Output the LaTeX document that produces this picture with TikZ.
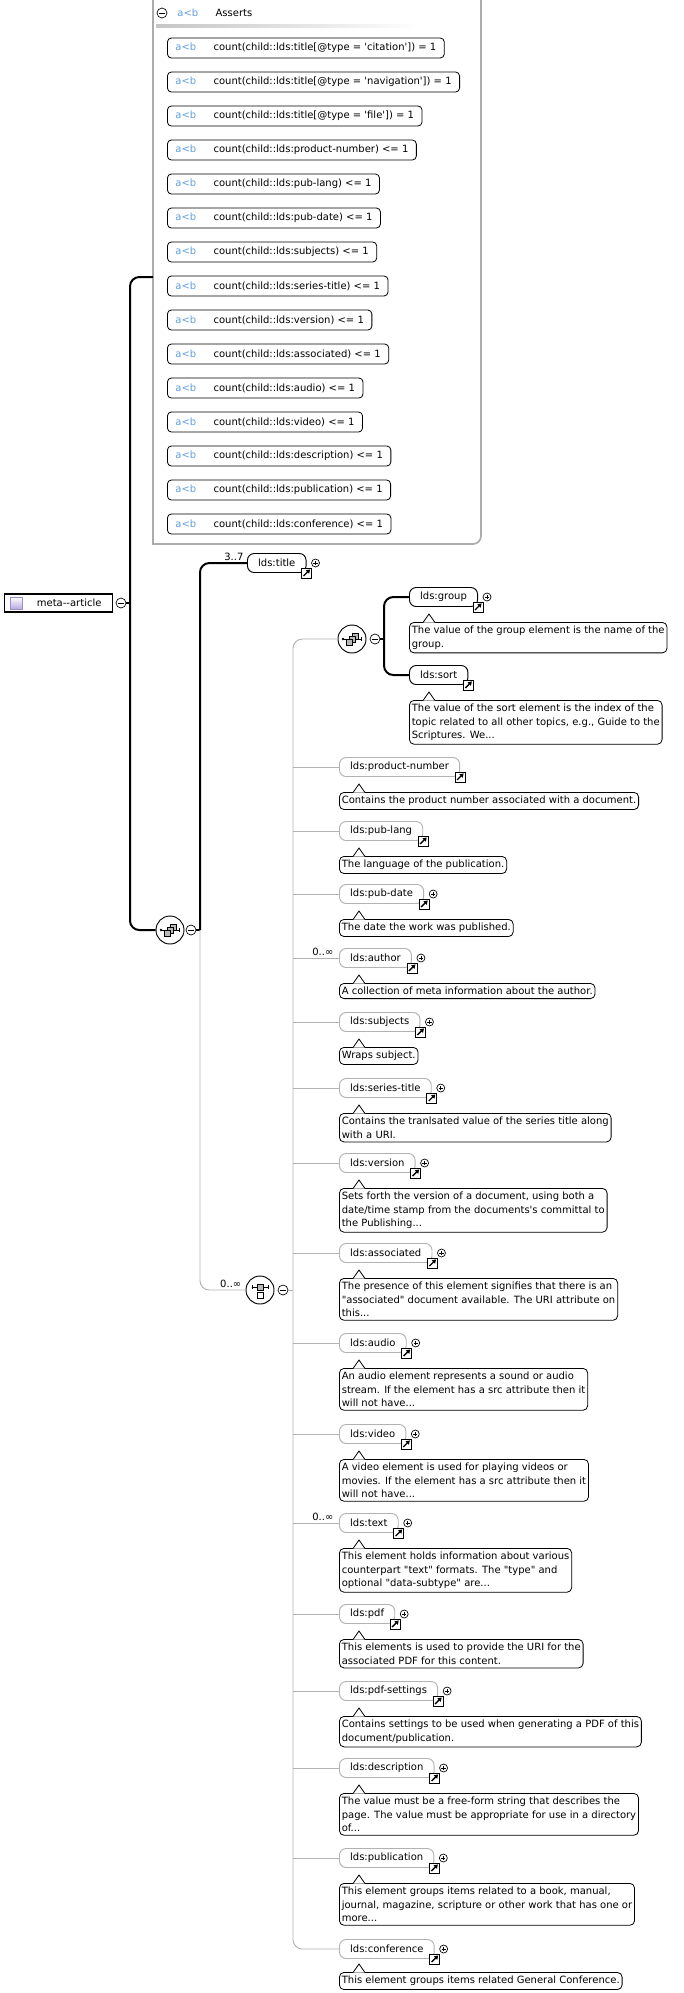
\documentclass[tikz,border=0pt]{standalone}
\usepackage{fontspec}
\newfontfamily\xsdfont{DejaVu Sans}
\usepackage{tikz}
\usetikzlibrary{shapes,arrows,arrows.meta,positioning,calc}
\usepackage{xcolor}
\definecolor{abblue}{RGB}{96,160,228}
\definecolor{optgray}{RGB}{178,178,178}
\definecolor{framegray}{RGB}{172,172,172}
\definecolor{lavender}{RGB}{160,140,210}

\newcommand{\refmark}[1]{\node[refbox] (#1ref) at (#1.south east) {};}
\newcommand{\plusmark}[1]{\node[plusbox, right=3.5pt of #1.east] (#1plus) {};}
\newcommand{\docnote}[3]{%
    \node[annot] (#1) at (#2) {#3};
    \filldraw[fill=white, line width=0.6pt] ([xshift=10.5pt,yshift=-0.4pt]#1.north west) -- ++(4.5pt,6.4pt) -- ++(4.5pt,-6.4pt);}

\begin{document}
\begin{tikzpicture}[
    x=0.75pt, y=-0.75pt,
    every node/.style={font=\xsdfont\fontsize{7.5}{10}\selectfont},
    elem/.style={rectangle, draw, rounded corners=5pt, fill=white, line width=0.7pt, minimum height=14.25pt, inner xsep=8pt, inner ysep=0pt, anchor=west},
    optelem/.style={elem, draw=optgray},
    annot/.style={rectangle, draw, rounded corners=3.5pt, fill=white, line width=0.6pt, align=left, inner xsep=1.8pt, inner ysep=2.8pt, anchor=north west},
    assertbox/.style={rectangle, draw, rounded corners=3pt, fill=white, line width=0.6pt, minimum height=15pt, inner xsep=6pt, inner ysep=0pt, anchor=west},
    asserthead/.style={assertbox, draw=none},
    root/.style={rectangle, draw, fill=white, line width=0.8pt, minimum width=81pt, minimum height=13.5pt, inner sep=0pt, anchor=west},
    comp/.style={circle, draw, fill=white, line width=0.7pt, minimum size=21pt, inner sep=0pt},
    minus/.style={circle, draw, fill=white, inner sep=0pt, minimum size=7.5pt, line width=0.5pt,
        path picture={\draw[line width=0.5pt] ([xshift=1.7pt]path picture bounding box.west) -- ([xshift=-1.7pt]path picture bounding box.east);}},
    plusbox/.style={circle, draw, fill=white, inner sep=0pt, minimum size=6pt, line width=0.5pt,
        path picture={\draw[line width=0.5pt] ([xshift=1.4pt]path picture bounding box.west) -- ([xshift=-1.4pt]path picture bounding box.east)
            ([yshift=1.4pt]path picture bounding box.south) -- ([yshift=-1.4pt]path picture bounding box.north);}},
    refbox/.style={rectangle, draw, fill=white, inner sep=0pt, minimum size=7.5pt, line width=0.5pt,
        path picture={\draw[line width=1pt, -{Triangle[length=2.8pt, width=3.4pt]}] ([shift={(1.5pt,1.5pt)}]path picture bounding box.south west) -- ([shift={(-1.1pt,-1.1pt)}]path picture bounding box.north east);}},
    card/.style={inner sep=0pt},
    bold/.style={line width=1.5pt},
    faint/.style={line width=0.7pt, draw=optgray},
    seqglyph/.pic={
        \draw[line width=0.5pt] (-9,0) -- (9,0);
        \fill (-9,0) circle (1pt);
        \draw[line width=0.6pt] (9,-2) -- (9,2);
        \filldraw[fill=gray!55, line width=0.4pt] (0,-6) rectangle (6,0);
        \filldraw[fill=gray!55, line width=0.4pt] (-3,-3) rectangle (3,3);
        \filldraw[fill=gray!55, line width=0.4pt] (-6,0) rectangle (0,6);
    },
    choiceglyph/.pic={
        \draw[line width=0.5pt] (-8,-3) -- (8,-3);
        \draw[line width=0.5pt] (-8,-5) -- (-8,-1) (8,-5) -- (8,-1);
        \filldraw[fill=gray!55, line width=0.4pt] (-3,-6) rectangle (3,0);
        \filldraw[fill=white, line width=0.4pt] (-3,2) rectangle (3,8);
    }
]
    \useasboundingbox (0,0) rectangle (683,1993);

    % Asserts frame
    \draw[draw=framegray, line width=1.3pt] (153,-5) -- (153,544) -- (473,544) to[out=0,in=-90] (481,536) -- (481,-5);
    \node[minus] (assertsm) at (162,13) {};
    \node[asserthead] (asserthead) at (169,13) {\textcolor{abblue}{a<b}\hspace{13pt}Asserts};
    \shade[left color=gray!45, right color=white] (156,24) rectangle (420,27);

    % Assert items
    \node[assertbox] (a1) at (167,48) {\textcolor{abblue}{a<b}\hspace{13pt}count(child::lds:title[@type = 'citation']) = 1};
    \node[assertbox] (a2) at (167,82) {\textcolor{abblue}{a<b}\hspace{13pt}count(child::lds:title[@type = 'navigation']) = 1};
    \node[assertbox] (a3) at (167,116) {\textcolor{abblue}{a<b}\hspace{13pt}count(child::lds:title[@type = 'file']) = 1};
    \node[assertbox] (a4) at (167,150) {\textcolor{abblue}{a<b}\hspace{13pt}count(child::lds:product-number) <= 1};
    \node[assertbox] (a5) at (167,184) {\textcolor{abblue}{a<b}\hspace{13pt}count(child::lds:pub-lang) <= 1};
    \node[assertbox] (a6) at (167,218) {\textcolor{abblue}{a<b}\hspace{13pt}count(child::lds:pub-date) <= 1};
    \node[assertbox] (a7) at (167,252) {\textcolor{abblue}{a<b}\hspace{13pt}count(child::lds:subjects) <= 1};
    \node[assertbox] (a8) at (167,286) {\textcolor{abblue}{a<b}\hspace{13pt}count(child::lds:series-title) <= 1};
    \node[assertbox] (a9) at (167,320) {\textcolor{abblue}{a<b}\hspace{13pt}count(child::lds:version) <= 1};
    \node[assertbox] (a10) at (167,354) {\textcolor{abblue}{a<b}\hspace{13pt}count(child::lds:associated) <= 1};
    \node[assertbox] (a11) at (167,388) {\textcolor{abblue}{a<b}\hspace{13pt}count(child::lds:audio) <= 1};
    \node[assertbox] (a12) at (167,422) {\textcolor{abblue}{a<b}\hspace{13pt}count(child::lds:video) <= 1};
    \node[assertbox] (a13) at (167,456) {\textcolor{abblue}{a<b}\hspace{13pt}count(child::lds:description) <= 1};
    \node[assertbox] (a14) at (167,490) {\textcolor{abblue}{a<b}\hspace{13pt}count(child::lds:publication) <= 1};
    \node[assertbox] (a15) at (167,524) {\textcolor{abblue}{a<b}\hspace{13pt}count(child::lds:conference) <= 1};

    % Root
    \node[root] (meta) at (4,603) {\hspace*{16pt}meta-{}-article};
    \node[draw=lavender, line width=0.5pt, inner sep=0pt, minimum size=9pt, top color=white, bottom color=lavender!75] (metaicon) at (16,603) {};
    \node[minus] (metam) at (121,603) {};
    \coordinate (bus0) at (130,603);
    \coordinate (assertsin) at (153,277);

    % Outer sequence
    \node[comp] (seq) at (170,930) {};
    \pic at (seq) {seqglyph};
    \node[minus] (seqm) at (191,930) {};
    \coordinate (bus1) at (200,930);

    \node[elem] (title) at (247,563) {lds:title};
    \refmark{title} \plusmark{title}
    \node[card, above left=1.5pt and 2.5pt of title.west] (titlecard) {3..7};

    % Choice
    \node[comp] (choice) at (260,1290) {};
    \pic at (choice) {choiceglyph};
    \node[minus] (choicem) at (283,1290) {};
    \node[card, above left=1.5pt and 3pt of choice.west] (choicecard) {0..∞};
    \coordinate (bus2) at (293,1290);

    % Inner sequence
    \node[comp] (inseq) at (352,639) {};
    \pic at (inseq) {seqglyph};
    \node[minus] (inseqm) at (375,639) {};
    \coordinate (bus3) at (384,639);

    \node[elem] (group) at (409,597) {lds:group};
    \refmark{group} \plusmark{group}
    \docnote{groupdoc}{409,622}{The value of the group element is the name of the\\group.}
    \node[elem] (sort) at (409,675) {lds:sort};
    \refmark{sort}
    \docnote{sortdoc}{409,700}{The value of the sort element is the index of the\\topic related to all other topics, e.g., Guide to the\\Scriptures. We...}

    % Choice children
    \node[optelem] (pnum) at (339,767) {lds:product-number};
    \refmark{pnum}
    \docnote{pnumdoc}{339,792}{Contains the product number associated with a document.}

    \node[optelem] (publang) at (339,831) {lds:pub-lang};
    \refmark{publang}
    \docnote{publangdoc}{339,856}{The language of the publication.}

    \node[optelem] (pubdate) at (339,894) {lds:pub-date};
    \refmark{pubdate} \plusmark{pubdate}
    \docnote{pubdatedoc}{339,919}{The date the work was published.}

    \node[optelem] (author) at (339,958) {lds:author};
    \refmark{author} \plusmark{author}
    \node[card, above left=1.5pt and 4pt of author.west] (authorcard) {0..∞};
    \docnote{authordoc}{339,983}{A collection of meta information about the author.}

    \node[optelem] (subjects) at (339,1022) {lds:subjects};
    \refmark{subjects} \plusmark{subjects}
    \docnote{subjectsdoc}{339,1047}{Wraps subject.}

    \node[optelem] (series) at (339,1088) {lds:series-title};
    \refmark{series} \plusmark{series}
    \docnote{seriesdoc}{339,1113}{Contains the tranlsated value of the series title along\\with a URI.}

    \node[optelem] (version) at (339,1163) {lds:version};
    \refmark{version} \plusmark{version}
    \docnote{versiondoc}{339,1188}{Sets forth the version of a document, using both a\\date/time stamp from the documents's committal to\\the Publishing...}

    \node[optelem] (assoc) at (339,1253) {lds:associated};
    \refmark{assoc} \plusmark{assoc}
    \docnote{assocdoc}{339,1278}{The presence of this element signifies that there is an\\"associated" document available. The URI attribute on\\this...}

    \node[optelem] (audio) at (339,1343) {lds:audio};
    \refmark{audio} \plusmark{audio}
    \docnote{audiodoc}{339,1368}{An audio element represents a sound or audio\\stream. If the element has a src attribute then it\\will not have...}

    \node[optelem] (video) at (339,1434) {lds:video};
    \refmark{video} \plusmark{video}
    \docnote{videodoc}{339,1459}{A video element is used for playing videos or\\movies. If the element has a src attribute then it\\will not have...}

    \node[optelem] (text) at (339,1523) {lds:text};
    \refmark{text} \plusmark{text}
    \node[card, above left=1.5pt and 4pt of text.west] (textcard) {0..∞};
    \docnote{textdoc}{339,1548}{This element holds information about various\\counterpart "text" formats. The "type" and\\optional "data-subtype" are...}

    \node[optelem] (pdf) at (339,1614) {lds:pdf};
    \refmark{pdf} \plusmark{pdf}
    \docnote{pdfdoc}{339,1639}{This elements is used to provide the URI for the\\associated PDF for this content.}

    \node[optelem] (pdfset) at (339,1691) {lds:pdf-settings};
    \refmark{pdfset} \plusmark{pdfset}
    \docnote{pdfsetdoc}{339,1716}{Contains settings to be used when generating a PDF of this\\document/publication.}

    \node[optelem] (descr) at (339,1768) {lds:description};
    \refmark{descr} \plusmark{descr}
    \docnote{descrdoc}{339,1793}{The value must be a free-form string that describes the\\page. The value must be appropriate for use in a directory\\of...}

    \node[optelem] (publication) at (339,1858) {lds:publication};
    \refmark{publication} \plusmark{publication}
    \docnote{publicationdoc}{339,1883}{This element groups items related to a book, manual,\\journal, magazine, scripture or other work that has one or\\more...}

    \node[optelem] (conf) at (339,1949) {lds:conference};
    \refmark{conf} \plusmark{conf}
    \docnote{confdoc}{339,1972}{This element groups items related General Conference.}

    % Edges
    \draw[bold] (metam.east) -- (bus0);
    \draw[bold, rounded corners=7pt] (assertsin) -| (bus0) |- (seq.west);

    \draw[bold] (seqm.east) -- (bus1);
    \draw[bold, rounded corners=7pt] (bus1) |- (title.west);
    \draw[faint, rounded corners=7pt] (bus1) |- (choice.west);

    \draw[faint] (choicem.east) -- (bus2);
    \draw[faint, rounded corners=7pt] (bus2) |- (inseq.west);
    \draw[faint, rounded corners=7pt] (bus2) |- (conf.west);

    \draw[bold] (inseqm.east) -- (bus3);
    \draw[bold, rounded corners=7pt] (bus3) |- (group.west);
    \draw[bold, rounded corners=7pt] (bus3) |- (sort.west);

    \draw[faint] (bus2 |- pnum.west) -- (pnum.west);
    \draw[faint] (bus2 |- publang.west) -- (publang.west);
    \draw[faint] (bus2 |- pubdate.west) -- (pubdate.west);
    \draw[faint] (bus2 |- author.west) -- (author.west);
    \draw[faint] (bus2 |- subjects.west) -- (subjects.west);
    \draw[faint] (bus2 |- series.west) -- (series.west);
    \draw[faint] (bus2 |- version.west) -- (version.west);
    \draw[faint] (bus2 |- assoc.west) -- (assoc.west);
    \draw[faint] (bus2 |- audio.west) -- (audio.west);
    \draw[faint] (bus2 |- video.west) -- (video.west);
    \draw[faint] (bus2 |- text.west) -- (text.west);
    \draw[faint] (bus2 |- pdf.west) -- (pdf.west);
    \draw[faint] (bus2 |- pdfset.west) -- (pdfset.west);
    \draw[faint] (bus2 |- descr.west) -- (descr.west);
    \draw[faint] (bus2 |- publication.west) -- (publication.west);
\end{tikzpicture}
\end{document}
